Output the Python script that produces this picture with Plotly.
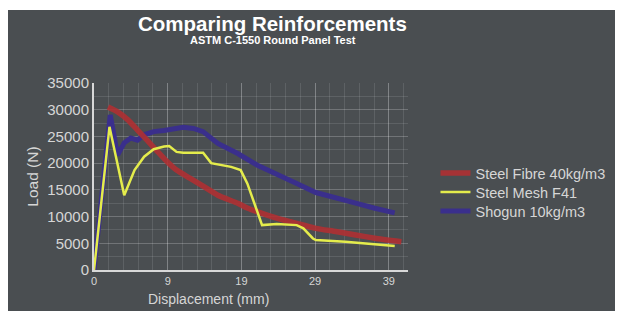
import plotly.graph_objects as go

# ---- data (x = position along the displacement axis, y = load in N) ----
tick_pos = [0, 10, 20, 30, 40]
tick_labels = ["0", "9", "19", "29", "39"]

fibre_x = [1.9, 3.2, 4.6, 5.9, 7.2, 8.6, 9.9, 11.2, 13.0, 14.8, 16.8, 19.5, 20.8,
           22.8, 24.8, 27.5, 30.1, 32.8, 35.5, 38.1, 41.7]
fibre_y = [30500, 29600, 28100, 26200, 24300, 22200, 20300, 18700, 17200, 15700,
           14000, 12500, 11600, 10600, 9700, 8700, 7800, 7200, 6550, 5950, 5300]

mesh_x = [0, 2.1, 4.1, 5.5, 6.8, 8.1, 9.5, 10.2, 11.2, 12.1, 14.8, 15.9, 18.6,
          19.9, 20.8, 21.7, 22.8, 24.8, 27.5, 28.4, 29.7, 30.1, 34.1, 40.8]
mesh_y = [0, 26800, 14000, 18700, 21200, 22600, 23100, 23200, 22100, 21950, 21950,
          20000, 19300, 18700, 16200, 12500, 8400, 8600, 8400, 7800, 5900, 5600,
          5300, 4500]

shogun_x = [0, 2.2, 3.2, 4.1, 5.0, 5.9, 6.8, 8.1, 9.5, 10.8, 12.1, 13.5, 14.8,
            16.8, 19.5, 22.1, 24.8, 27.5, 30.1, 32.8, 35.5, 38.1, 40.8]
shogun_y = [0, 29000, 21500, 23800, 24700, 24300, 25300, 25900, 26100, 26500,
            26700, 26500, 25900, 23700, 21800, 19650, 17800, 16200, 14500, 13400,
            12500, 11550, 10700]

BG = "#4a4e51"
TXT = "#d6d6d6"

# page body adds an 8px offset; plot area in window px: x 94..412, y 83..270
OFF = 8
PX0, PX1, PY0, PY1 = 94 - OFF, 414 - OFF, 83 - OFF, 270 - OFF
W, H = 623 - OFF - 1, 311 - OFF


def px(xw):
    return ((xw - OFF) - PX0) / (PX1 - PX0)


def py(yw):
    return (PY1 - (yw - OFF)) / (PY1 - PY0)


fig = go.Figure()
fig.add_trace(go.Scatter(x=shogun_x, y=shogun_y, mode="lines", name="Shogun 10kg/m3",
                         line=dict(color="#3a2f8c", width=5), legend="legend3"))
fig.add_trace(go.Scatter(x=fibre_x, y=fibre_y, mode="lines", name="Steel Fibre 40kg/m3",
                         line=dict(color="rgba(175,48,50,0.9)", width=5.5,
                                   shape="spline", smoothing=0.5), legend="legend"))
fig.add_trace(go.Scatter(x=mesh_x, y=mesh_y, mode="lines", name="Steel Mesh F41",
                         line=dict(color="#e4ec4c", width=2.5), legend="legend2"))

grid_major = "rgba(255,255,255,0.22)"
grid_minor = "rgba(255,255,255,0.11)"


def leg(yw):
    return dict(x=px(442), y=py(yw), xanchor="left", yanchor="middle",
                font=dict(size=14.5, color=TXT), bgcolor="rgba(0,0,0,0)",
                itemwidth=30, borderwidth=0)


fig.update_layout(
    width=W, height=H,
    margin=dict(l=PX0, r=W - PX1, t=PY0, b=H - PY1),
    paper_bgcolor=BG, plot_bgcolor=BG,
    font=dict(family="Liberation Sans, Arial, sans-serif", color=TXT),
    showlegend=True,
    legend=leg(173), legend2=leg(192), legend3=leg(211),
    xaxis=dict(range=[0, 42.6], tickmode="array", tickvals=tick_pos, ticktext=tick_labels,
               showline=True, linecolor="#d8d8d8", linewidth=2, zeroline=False,
               showgrid=True, gridcolor=grid_major, gridwidth=1,
               tickfont=dict(size=11, color=TXT), ticks="",
               minor=dict(tickmode="linear", tick0=0, dtick=2, showgrid=True,
                          gridcolor=grid_minor, ticks="")),
    yaxis=dict(range=[0, 35000], tickmode="linear", tick0=0, dtick=5000, tickformat="d",
               showline=True, linecolor="#d8d8d8", linewidth=2, zeroline=False,
               showgrid=True, gridcolor=grid_major, gridwidth=1,
               tickfont=dict(size=15, color=TXT), ticks="",
               minor=dict(tickmode="linear", tick0=0, dtick=2500, showgrid=True,
                          gridcolor=grid_minor, ticks="")),
    shapes=[
        dict(type="rect", xref="paper", yref="paper", x0=-1, x1=2,
             y0=py(10), y1=3.0, fillcolor="white", line_width=0, layer="below"),
    ],
    annotations=[
        dict(text="<b>Comparing Reinforcements</b>", xref="paper", yref="paper",
             x=px(276), y=py(23), xanchor="center", yanchor="middle",
             showarrow=False, font=dict(size=20.5, color="white")),
        dict(text="<b>ASTM C-1550 Round Panel Test</b>", xref="paper", yref="paper",
             x=px(276), y=py(40), xanchor="center", yanchor="middle",
             showarrow=False, font=dict(size=11, color="white")),
        dict(text="Displacement (mm)", xref="paper", yref="paper",
             x=px(211), y=py(299), xanchor="center", yanchor="middle",
             showarrow=False, font=dict(size=14, color=TXT)),
        dict(text="Load (N)", xref="paper", yref="paper", textangle=-90,
             x=px(31), y=py(176.5), xanchor="center", yanchor="middle",
             showarrow=False, font=dict(size=15.5, color=TXT)),
    ],
)

fig.write_html("out.html")
